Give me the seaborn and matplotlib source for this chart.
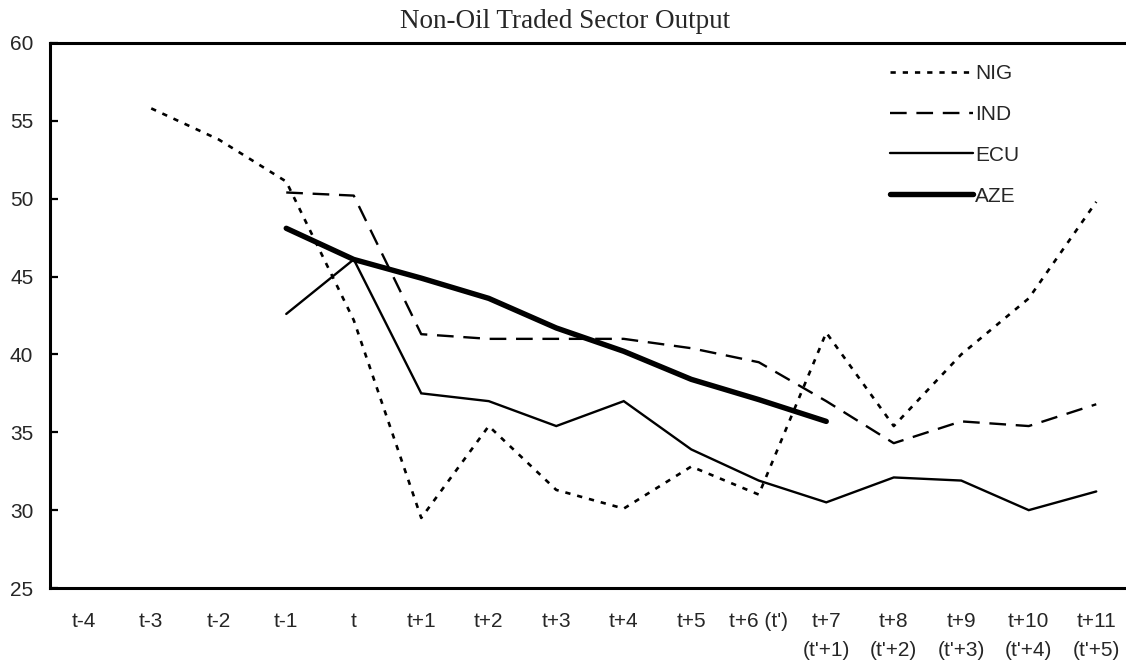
import matplotlib
matplotlib.use("Agg")
import matplotlib.pyplot as plt
import seaborn as sns
import numpy as np
import pandas as pd

# data
periods = ["t-4", "t-3", "t-2", "t-1", "t", "t+1", "t+2", "t+3", "t+4", "t+5",
           "t+6 (t')", "t+7\n(t'+1)", "t+8\n(t'+2)", "t+9\n(t'+3)",
           "t+10\n(t'+4)", "t+11\n(t'+5)"]
nig = [None, 55.8, 53.8, 51.1, 42.2, 29.5, 35.4, 31.3, 30.1, 32.8, 31.0,
       41.4, 35.4, 40.0, 43.6, 49.8]
ind = [None, None, None, 50.4, 50.2, 41.3, 41.0, 41.0, 41.0, 40.4, 39.5,
       37.0, 34.3, 35.7, 35.4, 36.8]
ecu = [None, None, None, 42.6, 46.1, 37.5, 37.0, 35.4, 37.0, 33.9, 31.9,
       30.5, 32.1, 31.9, 30.0, 31.2]
aze = [None, None, None, 48.1, 46.1, 44.9, 43.6, 41.7, 40.2, 38.4, 37.1,
       35.7, None, None, None, None]

series = {"NIG": nig, "IND": ind, "ECU": ecu, "AZE": aze}
styles = {
    "NIG": dict(linewidth=1.9, linestyle=(0, (3.8, 5.0))),
    "IND": dict(linewidth=1.7, linestyle=(0, (12.0, 7.0))),
    "ECU": dict(linewidth=1.7, linestyle="-"),
    "AZE": dict(linewidth=3.9, linestyle="-"),
}

sns.set_style("white")
plt.rcParams["font.family"] = ["Liberation Sans", "DejaVu Sans"]
plt.rcParams["lines.scale_dashes"] = False

fig = plt.figure(figsize=(11.26, 6.67), dpi=100)
ax = fig.add_axes([50 / 1126, 1 - 588 / 667, 1080 / 1126, 545 / 667])

handles = []
for name, vals in series.items():
    df = pd.DataFrame({"x": np.arange(len(periods)), "y": vals}).dropna()
    sns.lineplot(data=df, x="x", y="y", ax=ax, color="black", sort=False,
                 solid_joinstyle="miter", **styles[name])
    handles.append(ax.get_lines()[-1])

ax.set_xlim(-0.5, len(periods) - 0.5)
ax.set_ylim(25, 60)
ax.set_yticks(np.arange(25, 61, 5))
ax.set_xticks(np.arange(len(periods)))
ax.set_xticklabels(periods, linespacing=1.7)
ax.set_xticks(np.arange(0.5, len(periods) - 1, 1), minor=True)
ax.set_xlabel("")
ax.set_ylabel("")

ax.tick_params(axis="x", which="major", length=0, pad=17, labelsize=15)
ax.tick_params(axis="x", which="minor", direction="in", length=5,
               width=1.6, color="black")
ax.tick_params(axis="y", direction="in", length=6, width=1.6, pad=12,
               labelsize=15, color="black", left=True)

for side in ["left", "bottom", "top"]:
    ax.spines[side].set_linewidth(2.2)
    ax.spines[side].set_color("black")
ax.spines["right"].set_visible(False)

leg = ax.legend(handles, list(series.keys()), loc="upper left",
                bbox_to_anchor=(890 / 1126, 1 - 64 / 667),
                bbox_transform=fig.transFigure, frameon=False, fontsize=15,
                handlelength=4.0, handletextpad=0.08, labelspacing=1.05,
                borderpad=0, borderaxespad=0)

fig.text(565 / 1126, 1 - 21 / 667, "Non-Oil Traded Sector Output",
         ha="center", va="center", family="Liberation Serif", fontsize=19.5)

fig.savefig("out.png", dpi=100)
